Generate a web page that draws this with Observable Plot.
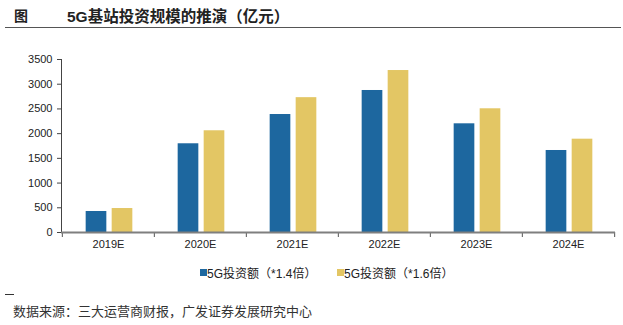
<!DOCTYPE html>
<html>
<head>
<meta charset="utf-8">
<script src="https://cdn.jsdelivr.net/npm/d3@7"></script>
<script src="https://cdn.jsdelivr.net/npm/@observablehq/plot@0.6"></script>
<style>
  html, body { margin: 0; padding: 0; background: #fff; }
  #wrap { position: relative; width: 623px; height: 325px; overflow: hidden; font-family: "Liberation Sans", Arial, "Noto Sans CJK SC", sans-serif; }
  #t1 { position: absolute; left: 14px; top: 5px; font: bold 14px "Noto Sans CJK SC", sans-serif; color: #222; }
  #t2 { position: absolute; left: 67px; top: 4px; font: bold 15.5px "Liberation Sans", "Noto Sans CJK SC", sans-serif; color: #222; }
  #hr { position: absolute; left: 5px; top: 27px; width: 616px; height: 0; border-top: 1.5px solid #555; }
  #chart { position: absolute; left: 0; top: 40px; }
  #legend { position: absolute; top: 264px; left: 0; font: 12px "Liberation Sans", "Noto Sans CJK SC", sans-serif; color: #222; }
  .li { position: absolute; white-space: nowrap; }
  .li .cj { font-family: "Noto Sans CJK SC", sans-serif; }
  .sw { position: absolute; width: 7px; height: 7px; top: 5px; }
  #dash { position: absolute; left: 5px; top: 294px; width: 9px; border-top: 1px solid #333; }
  #cap { position: absolute; left: 13px; top: 301px; font: 13px "Noto Sans CJK SC", sans-serif; color: #333; white-space: nowrap; }
</style>
</head>
<body>
<div id="wrap">
  <div id="t1">图</div>
  <div id="t2">5G基站投资规模的推演（亿元）</div>
  <div id="hr"></div>
  <div id="chart"></div>
  <div id="legend"></div>
  <div id="dash"></div>
  <div id="cap">数据来源：三大运营商财报，广发证券发展研究中心</div>
</div>
<script>
const years = ["2019E", "2020E", "2021E", "2022E", "2023E", "2024E"];
const seriesNames = ["5G投资额（*1.4倍）", "5G投资额（*1.6倍）"];
const seriesColors = ["#1d679f", "#e3c664"];
const valuesLow = [425, 1795, 2387, 2873, 2199, 1659];
const valuesHigh = [485, 2058, 2728, 3277, 2503, 1888];
const yTicks = [0, 500, 1000, 1500, 2000, 2500, 3000, 3500];

const W = 623, H = 215, mL = 61, mR = 8, mT = 19, mB = 23;
const step = (W - mL - mR) / years.length;
const barW = 21, gap = 5, outer = (step - 2 * barW - gap) / 2 + 1;

const low = years.map((y, i) => ({year: y, value: valuesLow[i]}));
const high = years.map((y, i) => ({year: y, value: valuesHigh[i]}));

const chart = Plot.plot({
  width: W, height: H,
  marginLeft: mL, marginRight: mR, marginTop: mT, marginBottom: mB,
  style: {fontFamily: "'Liberation Sans', Arial, sans-serif", fontSize: "11px", color: "#222", background: "#fff"},
  x: {domain: years, padding: 0, label: null},
  y: {domain: [0, 3500], ticks: yTicks, label: null},
  marks: [
    Plot.barY(low, {x: "year", y: "value", fill: seriesColors[0], insetLeft: outer, insetRight: step - outer - barW}),
    Plot.barY(high, {x: "year", y: "value", fill: seriesColors[1], insetLeft: outer + barW + gap, insetRight: step - outer - 2 * barW - gap}),
    Plot.axisY({ticks: yTicks, tickFormat: d => String(d), tickSize: 4, tickPadding: 5, stroke: "#444", fontSize: 11, label: null}),
    Plot.frame({anchor: "left", stroke: "#444"}),
    Plot.axisX({tickSize: 0, tickPadding: 8, fontSize: 11, label: null}),
    Plot.ruleX(years, {x: d => d, dx: -step / 2, y1: 0, y2: 0, insetBottom: -5, stroke: "#555"}),
    Plot.ruleX([years[years.length - 1]], {x: d => d, dx: step / 2, y1: 0, y2: 0, insetBottom: -5, stroke: "#555"}),
    Plot.ruleY([0], {stroke: "#7f7f7f", strokeWidth: 2})
  ]
});
document.getElementById("chart").appendChild(chart);

const legend = document.getElementById("legend");
const lx = [200, 337];
seriesNames.forEach((name, i) => {
  const sw = document.createElement("div");
  sw.className = "sw";
  sw.style.left = lx[i] + "px";
  sw.style.background = seriesColors[i];
  legend.appendChild(sw);
  const t = document.createElement("div");
  t.className = "li";
  t.style.left = (lx[i] + 7) + "px";
  name.split(/([^\x00-\x7f]+)/).forEach(part => {
    if (!part) return;
    const s = document.createElement("span");
    if (/[^\x00-\x7f]/.test(part)) s.className = "cj";
    s.textContent = part;
    t.appendChild(s);
  });
  legend.appendChild(t);
});
</script>
</body>
</html>
